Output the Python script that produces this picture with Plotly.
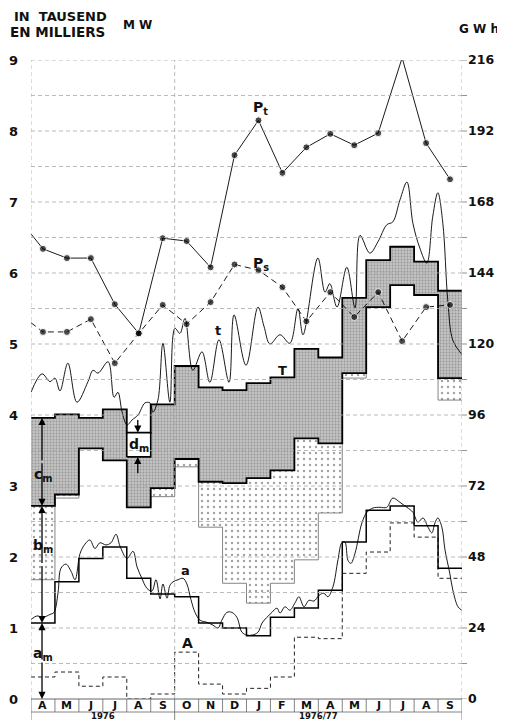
import plotly.graph_objects as go

# ---------------- data ----------------
months = ["A", "M", "J", "J", "A", "S", "O", "N", "D", "J", "F", "M", "A", "M", "J", "J", "A", "S"]
year_labels = ["1976", "1976/77"]
year_centers = [3, 12]
year_breaks = [0, 6, 18]

left_ticks = list(range(0, 10))
right_ticks = list(range(0, 217, 24))
right_minor = list(range(0, 217, 12))

# monthly peaks (thousand MW)
Pt = [6.34, 6.21, 6.21, 5.56, 5.15, 6.49, 6.45, 6.08, 7.66, 8.15, 7.41, 7.77,
      7.96, 7.80, 7.97, 9.03, 7.83, 7.32]
Pt_edge = 6.55
Ps = [5.17, 5.17, 5.35, 4.73, 5.15, 5.55, 5.28, 5.59, 6.12, 6.04, 5.80, 5.32,
      5.73, 5.38, 5.73, 5.04, 5.52, 5.55]
Ps_edge = 5.30

# monthly step levels
T_top = [3.96, 4.01, 3.96, 4.08, 3.75, 4.15, 4.69, 4.39, 4.35, 4.45, 4.53, 4.93,
         4.81, 5.65, 6.18, 6.37, 6.16, 5.75]
G_bot = [2.72, 2.88, 3.53, 3.36, 2.70, 2.97, 3.38, 3.06, 3.04, 3.11, 3.22, 3.67,
         3.60, 4.59, 5.52, 5.83, 5.69, 4.52]
D_bot = [1.68, 2.83, 3.53, 3.36, 2.70, 2.85, 3.27, 2.42, 1.63, 1.35, 1.63, 1.96,
         2.62, 4.52, 5.52, 5.83, 5.69, 4.21]
a_step = [1.07, 1.65, 1.98, 2.14, 1.70, 1.48, 1.44, 1.07, 1.00, 0.89, 1.15, 1.28,
          1.53, 2.21, 2.66, 2.72, 2.44, 1.84]
A_step = [0.31, 0.38, 0.18, 0.31, 0.00, 0.07, 0.66, 0.21, 0.07, 0.15, 0.31, 0.87,
          0.85, 1.77, 2.07, 2.48, 2.28, 1.70]
d_month = 4
d_bottom, d_top = 3.41, 3.75

# continuous curves (month position, value)
a_curve = [(0.00, 1.12), (0.25, 1.17), (0.50, 1.15), (0.79, 1.19), (0.96, 1.22), (1.13, 1.50),
           (1.25, 1.84), (1.46, 1.90), (1.67, 1.80), (1.84, 1.68), (2.05, 2.05), (2.25, 2.18),
           (2.46, 2.24), (2.67, 2.12), (2.88, 2.20), (3.13, 2.17), (3.34, 2.20), (3.55, 2.32),
           (3.72, 2.15), (4.01, 1.98), (4.26, 2.08), (4.43, 1.86), (4.63, 1.70), (4.84, 1.56),
           (5.05, 1.52), (5.22, 1.68), (5.39, 1.41), (5.51, 1.62), (5.68, 1.42), (5.80, 1.60),
           (5.93, 1.65), (6.14, 1.68), (6.35, 1.70), (6.51, 1.62), (6.68, 1.40), (6.85, 1.22),
           (7.06, 1.11), (7.35, 1.08), (7.60, 1.04), (7.81, 1.00), (7.97, 1.11), (8.18, 1.22),
           (8.39, 1.22), (8.60, 1.15), (8.81, 0.94), (9.02, 0.90), (9.23, 0.90), (9.48, 0.94),
           (9.65, 1.07), (9.85, 1.15), (10.06, 1.22), (10.27, 1.28), (10.40, 1.21), (10.61, 1.30),
           (10.81, 1.25), (11.02, 1.35), (11.19, 1.44), (11.40, 1.30), (11.61, 1.39), (11.82, 1.38),
           (12.03, 1.46), (12.23, 1.49), (12.40, 1.44), (12.61, 1.58), (12.82, 1.96), (12.98, 2.20),
           (13.11, 2.21), (13.24, 1.95), (13.36, 1.91), (13.53, 2.05), (13.82, 2.48), (14.03, 2.63),
           (14.28, 2.69), (14.57, 2.70), (14.86, 2.70), (15.11, 2.83), (15.41, 2.77), (15.70, 2.70),
           (15.95, 2.63), (16.16, 2.49), (16.37, 2.55), (16.58, 2.42), (16.74, 2.34), (16.87, 2.48),
           (16.99, 2.55), (17.16, 2.42), (17.29, 2.10), (17.49, 1.77), (17.62, 1.53), (17.83, 1.30),
           (17.99, 1.25)]

t_curve = [(0.00, 4.32), (0.46, 4.58), (0.79, 4.47), (1.00, 4.52), (1.21, 4.34), (1.54, 4.73),
           (1.92, 4.18), (2.38, 4.47), (2.59, 4.63), (2.80, 4.59), (3.22, 4.75), (3.47, 4.25),
           (3.63, 4.32), (3.80, 4.05), (4.01, 3.86), (4.22, 3.93), (4.47, 4.00), (4.76, 4.17),
           (4.97, 4.17), (5.09, 4.04), (5.30, 4.21), (5.51, 5.01), (5.80, 4.18), (6.01, 5.22),
           (6.22, 5.15), (6.43, 5.36), (6.76, 4.63), (7.14, 4.89), (7.47, 4.46), (7.85, 5.06),
           (8.27, 4.46), (8.48, 5.41), (8.98, 4.70), (9.48, 5.52), (9.73, 5.25), (9.98, 5.00),
           (10.40, 5.13), (10.81, 5.01), (11.15, 5.50), (11.36, 5.13), (11.98, 6.21), (12.28, 5.73),
           (12.48, 5.85), (12.78, 5.52), (13.19, 6.08), (13.53, 5.51), (13.74, 6.53), (14.15, 6.28),
           (14.49, 6.44), (14.86, 6.68), (15.11, 6.72), (15.41, 7.03), (15.70, 7.28), (15.95, 6.70),
           (16.24, 6.35), (16.53, 6.14), (16.78, 6.80), (16.99, 7.13), (17.20, 6.70), (17.41, 5.60),
           (17.62, 5.05), (18.00, 4.85)]

# ---------------- figure ----------------
FONT = "DejaVu Sans"
n = len(months)
edges = list(range(n + 1))
centers = [i + 0.5 for i in range(n)]
PLOT_H = 639.0
PLOT_W = 431.0
PAGE_OFFSET = 8  # default page margin of the html body


def step(vals):
    return vals + [vals[-1]]


fig = go.Figure()

# dotted region (between D_bot and G_bot)
fig.add_trace(go.Scatter(x=edges, y=step(D_bot), mode="lines", line_shape="hv",
                         line=dict(color="#666666", width=0.8), hoverinfo="skip"))
fig.add_trace(go.Scatter(x=edges, y=step(G_bot), mode="lines", line_shape="hv",
                         line=dict(color="black", width=1.8), fill="tonexty",
                         fillpattern=dict(shape=".", size=6, solidity=0.12,
                                          fgcolor="#444444", bgcolor="white"),
                         hoverinfo="skip"))
# grey band (between G_bot and T_top)
fig.add_trace(go.Scatter(x=edges, y=step(T_top), mode="lines", line_shape="hv",
                         line=dict(color="black", width=1.8), fill="tonexty",
                         fillpattern=dict(shape=".", size=3, solidity=0.3,
                                          fgcolor="#6a6a6a", bgcolor="#c2c2c2"),
                         hoverinfo="skip"))
# d box
fig.add_trace(go.Scatter(x=[d_month, d_month + 1, d_month + 1, d_month, d_month],
                         y=[d_bottom, d_bottom, d_top, d_top, d_bottom],
                         mode="lines", fill="toself", fillcolor="white",
                         line=dict(color="black", width=1.6), hoverinfo="skip"))
# A dashed step
fig.add_trace(go.Scatter(x=edges, y=step(A_step), mode="lines", line_shape="hv",
                         line=dict(color="#222222", width=1, dash="4px,3px"), hoverinfo="skip"))
# a step
fig.add_trace(go.Scatter(x=edges, y=step(a_step), mode="lines", line_shape="hv",
                         line=dict(color="black", width=1.5), hoverinfo="skip"))
# a curve
fig.add_trace(go.Scatter(x=[p[0] for p in a_curve], y=[p[1] for p in a_curve], mode="lines",
                         line_shape="spline", line=dict(color="black", width=0.9, smoothing=1.0),
                         hoverinfo="skip"))
# t curve
fig.add_trace(go.Scatter(x=[p[0] for p in t_curve], y=[p[1] for p in t_curve], mode="lines",
                         line_shape="spline", line=dict(color="black", width=0.9, smoothing=1.0),
                         hoverinfo="skip"))
# Ps dashed with points
fig.add_trace(go.Scatter(x=[0] + centers, y=[Ps_edge] + Ps, mode="lines+markers",
                         line=dict(color="black", width=0.9, dash="6px,4px"),
                         marker=dict(color="black", size=[0] + [7] * n), hoverinfo="skip",
                         cliponaxis=False))
# Pt solid with points
fig.add_trace(go.Scatter(x=[0] + centers, y=[Pt_edge] + Pt, mode="lines+markers",
                         line=dict(color="black", width=0.9),
                         marker=dict(color="black", size=[0] + [7] * n), hoverinfo="skip",
                         cliponaxis=False))
# secondary axis carrier
fig.add_trace(go.Scatter(x=[None], y=[None], yaxis="y2", hoverinfo="skip"))

# grid lines drawn above the fills
shapes = []
v = 0.5
while v <= 9.001:
    shapes.append(dict(type="line", xref="x", yref="y", x0=0, x1=18, y0=v, y1=v, layer="above",
                       line=dict(color="#a8a8a8", width=0.8, dash="4px,3px")))
    v += 0.5
for xv in year_breaks:
    shapes.append(dict(type="line", xref="x", yref="y", x0=xv, x1=xv, y0=0, y1=9, layer="above",
                       line=dict(color="#a8a8a8", width=0.8, dash="4px,3px")))
# right-hand tick marks
for tv in right_minor:
    shapes.append(dict(type="line", xref="paper", yref="y2", x0=1, x1=1 + 5 / PLOT_W,
                       y0=tv, y1=tv, line=dict(color="#777777", width=0.8)))
# month boxes under the axis
box_h = 13 / PLOT_H
shapes.append(dict(type="line", xref="x", yref="paper", x0=0, x1=18, y0=0, y1=0,
                   line=dict(color="#666666", width=1)))
shapes.append(dict(type="line", xref="x", yref="paper", x0=0, x1=18, y0=-box_h, y1=-box_h,
                   line=dict(color="#666666", width=0.8)))
for xv in edges:
    y1 = -21 / PLOT_H if xv in year_breaks else -box_h
    shapes.append(dict(type="line", xref="x", yref="paper", x0=xv, x1=xv, y0=0, y1=y1,
                       line=dict(color="#666666", width=0.8)))

ann = []
bold = dict(family=FONT, color="#111111")


def label(x, y, text, size=14, xref="x", yref="y", xanchor="center"):
    ann.append(dict(x=x, y=y, xref=xref, yref=yref, text=text, showarrow=False,
                    xanchor=xanchor, yanchor="middle", font=dict(size=size, **bold)))


def arrow(x, y_head, y_tail):
    ann.append(dict(x=x, y=y_head, ax=x, ay=y_tail, xref="x", yref="y", axref="x", ayref="y",
                    text="", showarrow=True, arrowhead=2, arrowsize=1.1, arrowwidth=1.3,
                    arrowcolor="black", standoff=0, startstandoff=0))


# header
label((12 - 31) / PLOT_W, (699 - 17) / PLOT_H, "<b>IN  TAUSEND</b>", 13, "paper", "paper", "left")
label((8 - 31) / PLOT_W, (699 - 32) / PLOT_H, "<b>EN MILLIERS</b>", 13.5, "paper", "paper", "left")
label((121 - 31) / PLOT_W, (699 - 25) / PLOT_H, "<b>M W</b>", 12, "paper", "paper", "left")
label((501 - 31) / PLOT_W, (699 - 29) / PLOT_H, "<b>G W h</b>", 12, "paper", "paper", "right")
# month and year labels
for m, xc in zip(months, centers):
    label(xc, -6.5 / PLOT_H, "<b>" + m + "</b>", 11, "x", "paper")
for txt, xc in zip(year_labels, year_centers):
    label(xc, -16.5 / PLOT_H, "<b>" + txt + "</b>", 8.5, "x", "paper")

# series labels
label(9.6, 8.32, "<b>P<sub>t</sub></b>", 14)
label(9.6, 6.12, "<b>P<sub>s</sub></b>", 14)
label(7.8, 5.19, "<b>t</b>", 13)
label(10.52, 4.63, "<b>T</b>", 13)
label(6.45, 1.81, "<b>a</b>", 13)
label(6.55, 0.79, "<b>A</b>", 14)
label(0.52, 3.15, "<b>c<sub>m</sub></b>", 14)
label(0.52, 2.16, "<b>b<sub>m</sub></b>", 14)
label(0.52, 0.63, "<b>a<sub>m</sub></b>", 14)
label(d_month + 0.5, (d_top + d_bottom) / 2, "<b>d<sub>m</sub></b>", 14)

# dimension arrows
xa = 0.46
arrow(xa, T_top[0], (T_top[0] + G_bot[0]) / 2)
arrow(xa, G_bot[0], (T_top[0] + G_bot[0]) / 2)
arrow(xa, G_bot[0], (G_bot[0] + a_step[0]) / 2)
arrow(xa, a_step[0], (G_bot[0] + a_step[0]) / 2)
arrow(xa, a_step[0], a_step[0] / 2)
arrow(xa, 0, a_step[0] / 2)
xd = d_month + 0.46
arrow(xd, d_top, d_top + 0.2)
arrow(xd, d_bottom, d_bottom - 0.25)

# the page body adds an 8 px margin, so the figure is made smaller by that amount
fig.update_layout(
    width=505 - PAGE_OFFSET, height=720 - PAGE_OFFSET,
    margin=dict(l=31 - PAGE_OFFSET, r=43, t=60 - PAGE_OFFSET, b=21, autoexpand=False),
    plot_bgcolor="white", paper_bgcolor="white",
    showlegend=False,
    shapes=shapes, annotations=ann,
    xaxis=dict(range=[0, 18], showticklabels=False, automargin=False,
               showgrid=False, zeroline=False, showline=False, ticks="", fixedrange=True),
    yaxis=dict(range=[0, 9], tickvals=left_ticks, ticktext=["<b>%d</b>" % t for t in left_ticks],
               showgrid=False, zeroline=False, showline=False, ticks="", automargin=False,
               ticklabelstandoff=12,
               tickfont=dict(family=FONT, size=13, color="#111111")),
    yaxis2=dict(range=[0, 216], overlaying="y", side="right", automargin=False,
                tickvals=right_ticks, ticktext=["<b>%d</b>" % t for t in right_ticks],
                ticks="", ticklabelstandoff=5,
                showgrid=False, zeroline=False, showline=False,
                tickfont=dict(family=FONT, size=12.5, color="#111111")),
)

fig.write_html("out.html")
